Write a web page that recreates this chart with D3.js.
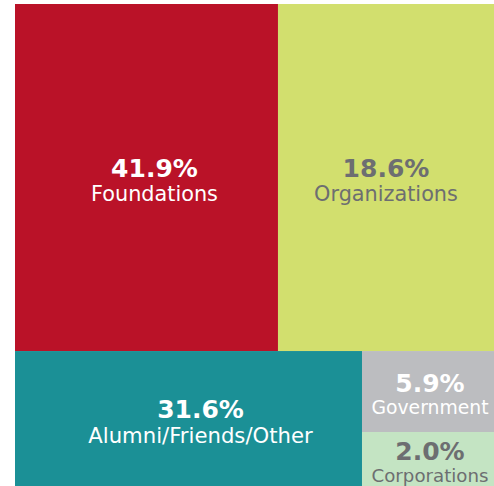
<!DOCTYPE html>
<html><head><meta charset="utf-8">
<script src="https://cdn.jsdelivr.net/npm/d3@7"></script>
<style>html,body{margin:0;padding:0;background:#fff;}svg{display:block;}</style>
</head><body>
<svg id="chart" width="494" height="486"></svg>
<script>
// Data
const categories = ["Foundations", "Organizations", "Alumni/Friends/Other", "Government", "Corporations"];
const shares = [41.9, 18.6, 31.6, 5.9, 2.0];
const valueLabels = ["41.9%", "18.6%", "31.6%", "5.9%", "2.0%"];

// Layout (fractional cell bounds, as in the reference) and styles
const cellBounds = [
  [0, 0, 0.549, 0.72],
  [0.549, 0, 1, 0.72],
  [0, 0.72, 0.7244, 1],
  [0.7244, 0.72, 1, 0.888],
  [0.7244, 0.888, 1, 1]
];
const fills = ["#BA1228", "#D2DF6E", "#1B9096", "#BCBDC0", "#C4E4C3"];
const textColors = ["#ffffff", "#6D6E71", "#ffffff", "#ffffff", "#6D6E71"];
const labelOffsetX = [8, 0, 12, 2, 2];
const valueSize = [25, 25, 25, 25, 25];
const nameSize = [20.8, 20.8, 21.2, 18.8, 18.2];
const valueDy = [-1, -1, -1, 0.5, 0.5];
const nameDy = [23, 23, 24, 22, 22.5];

const svg = d3.select("#chart");
const x = d3.scaleLinear().domain([0, 1]).range([15, 494]);
const y = d3.scaleLinear().domain([0, 1]).range([4, 486]);

const data = categories.map((c, i) => ({name: c, share: shares[i], label: valueLabels[i], b: cellBounds[i], i}));

const g = svg.selectAll("g.cell").data(data).join("g").attr("class", "cell");
g.append("rect")
  .attr("x", d => x(d.b[0]))
  .attr("y", d => y(d.b[1]))
  .attr("width", d => x(d.b[2]) - x(d.b[0]))
  .attr("height", d => y(d.b[3]) - y(d.b[1]))
  .attr("fill", d => fills[d.i]);

const font = "'DejaVu Sans', sans-serif";
g.append("text")
  .attr("x", d => (x(d.b[0]) + x(d.b[2])) / 2 + labelOffsetX[d.i])
  .attr("y", d => (y(d.b[1]) + y(d.b[3])) / 2 + valueDy[d.i])
  .attr("text-anchor", "middle")
  .attr("font-family", font)
  .attr("font-weight", "bold")
  .attr("font-size", d => valueSize[d.i])
  .attr("fill", d => textColors[d.i])
  .text(d => d.label);
g.append("text")
  .attr("x", d => (x(d.b[0]) + x(d.b[2])) / 2 + labelOffsetX[d.i])
  .attr("y", d => (y(d.b[1]) + y(d.b[3])) / 2 + nameDy[d.i])
  .attr("text-anchor", "middle")
  .attr("font-family", font)
  .attr("font-size", d => nameSize[d.i])
  .attr("fill", d => textColors[d.i])
  .text(d => d.name);
</script>
</body></html>
